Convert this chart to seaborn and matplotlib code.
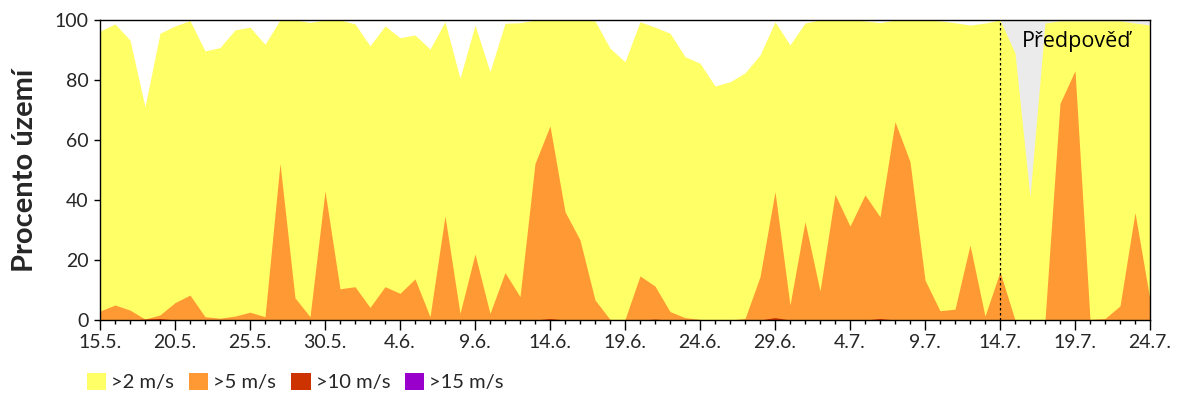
import numpy as np
import pandas as pd
import seaborn as sns
import matplotlib
matplotlib.use("Agg")
import matplotlib.pyplot as plt
from matplotlib.patches import Patch
from matplotlib.ticker import MultipleLocator, FixedLocator

# ---- data ----
tick_labels = ["15.5.", "20.5.", "25.5.", "30.5.", "4.6.", "9.6.", "14.6.", "19.6.",
               "24.6.", "29.6.", "4.7.", "9.7.", "14.7.", "19.7.", "24.7."]

gt2 = [96.3, 98.7, 93.3, 71.1, 95.6, 98.0, 99.8, 89.7, 90.8, 96.7, 97.6, 91.9, 100, 100, 99.2,
       100, 100, 98.7, 91.4, 98.0, 94.1, 95.0, 90.3, 99.4, 80.6, 98.3, 82.8, 98.9, 99.1, 100,
       100, 100, 100, 99.7, 90.6, 86.1, 99.4, 97.6, 95.6, 87.8, 85.6, 78.0, 79.4, 82.4, 88.3,
       99.4, 91.7, 99.0, 100, 100, 100, 99.7, 99.1, 100, 100, 100, 99.7, 99.1, 98.3, 99.0,
       100, 89.0, 41.1, 99.0, 99.7, 99.7, 99.7, 99.7, 99.7, 99.0, 98.3]

gt5 = [3.0, 5.0, 3.3, 0.3, 1.7, 5.8, 8.3, 1.1, 0.6, 1.3, 2.6, 1.1, 52.2, 7.4, 1.1,
       43.0, 10.4, 11.1, 4.2, 11.1, 8.9, 13.7, 1.1, 34.7, 2.2, 22.0, 2.2, 15.8, 7.8, 52.2,
       64.7, 36.1, 26.7, 6.7, 0.2, 0.2, 14.7, 11.3, 2.8, 0.8, 0.2, 0.0, 0.0, 0.5, 14.4,
       42.8, 5.0, 32.8, 9.7, 41.9, 31.3, 41.7, 34.4, 66.1, 52.8, 13.3, 3.1, 3.6, 25.0, 1.3,
       16.1, 0.0, 0.0, 0.0, 72.2, 83.1, 0.2, 0.5, 4.7, 35.8, 6.7]

gt10 = [0, 0, 0, 0.3, 0.5, 0, 0, 0, 0, 0, 0, 0, 0, 0, 0,
        0, 0, 0, 0, 0, 0, 0, 0, 0, 0, 0, 0, 0, 0, 0,
        0.5, 0, 0, 0, 0, 0, 0, 0.3, 0, 0, 0, 0, 0, 0, 0,
        0.8, 0, 0, 0, 0, 0, 0, 0.5, 0, 0, 0, 0, 0, 0, 0,
        0, 0, 0, 0, 0, 0, 0, 0, 0, 0, 0]

gt15 = [0] * 71

forecast_start = 60  # index of 14.7.
series_names = [">2 m/s", ">5 m/s", ">10 m/s", ">15 m/s"]
colors = ["#FFFF66", "#FF9933", "#CC3300", "#9900CC"]

df = pd.DataFrame({"day": np.arange(len(gt2)), ">2 m/s": gt2, ">5 m/s": gt5,
                   ">10 m/s": gt10, ">15 m/s": gt15})

# ---- plot ----
sns.set_style("ticks")
plt.rcParams['font.family'] = ['Lato', 'DejaVu Sans']

fig = plt.figure(figsize=(12, 4), dpi=100)
ax = fig.add_axes([100/1200, 1-320/400, 1050/1200, 300/400])

n = len(df)
ax.axvspan(forecast_start, n - 1, color="#EBEBEB", lw=0, zorder=0)
for name, c in zip(series_names, colors):
    sns.lineplot(data=df, x="day", y=name, ax=ax, color=c, lw=0, legend=False)
    ax.fill_between(df["day"], 0, df[name], color=c, lw=0, zorder=2)

ax.axvline(forecast_start, color="black", lw=0.9, ls=(0, (2, 2)), zorder=5)
ax.text(forecast_start + 1.45, 92.7, "Předpověď", fontsize=15.5, va="center", ha="left",
        family=["Open Sans", "DejaVu Sans"], color="black", zorder=6)

ax.set_xlim(0, n - 1)
ax.set_ylim(0, 100)
ax.xaxis.set_major_locator(FixedLocator(np.arange(0, n, 5)))
ax.set_xticklabels(tick_labels)
ax.xaxis.set_minor_locator(MultipleLocator(1))
ax.yaxis.set_major_locator(MultipleLocator(20))
ax.tick_params(axis="x", which="major", length=7, width=1, labelsize=14, pad=3, color="black")
ax.tick_params(axis="x", which="minor", length=3, width=1, color="black")
ax.tick_params(axis="y", which="major", length=4, width=1, labelsize=14, pad=4, color="black")
ax.set_xlabel("")
ax.set_ylabel("Procento území", fontsize=21, fontweight="bold", labelpad=12)
for s in ax.spines.values():
    s.set_visible(True)
    s.set_color("black")
    s.set_linewidth(1)
    s.set_zorder(10)

handles = [Patch(facecolor=c, edgecolor="none", label=l) for l, c in zip(series_names, colors)]
fig.legend(handles=handles, loc="center left", bbox_to_anchor=(73/1200, 1-382/400), ncol=4,
           frameon=False, fontsize=14.5, handlelength=0.95, handleheight=0.95,
           columnspacing=0.75, handletextpad=0.25, borderpad=0.2)

fig.savefig("out.png", dpi=100)
